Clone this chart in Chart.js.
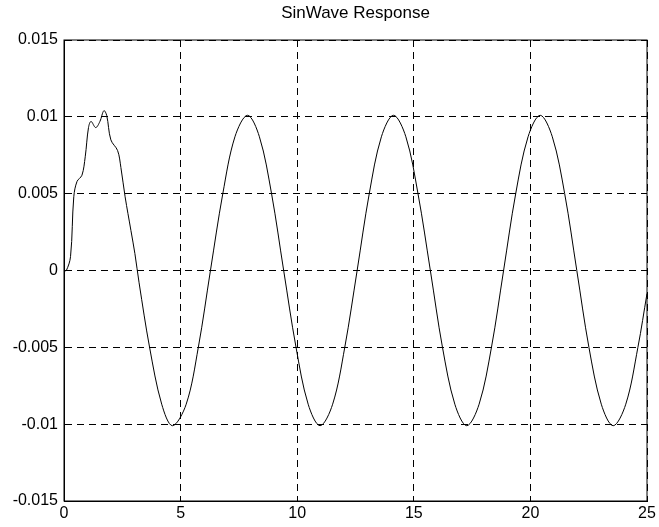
<!DOCTYPE html>
<html>
<head>
<meta charset="utf-8">
<title>SinWave Response</title>
<script src="https://cdn.jsdelivr.net/npm/chart.js@4/dist/chart.umd.min.js"></script>
<style>
    body { margin: 0; background: #fff; }
    #wrap { width: 659px; height: 527px; }
</style>
</head>
<body>
<div id="wrap"><canvas id="sinChart"></canvas></div>
<script>
// time (s) and response
const time = [0, 0.1, 0.28, 0.42, 0.56, 0.77, 0.91, 1.05, 1.16, 1.36, 1.54, 1.71, 1.83, 2.01, 2.3, 2.44, 2.62, 2.87, 3.04,
    3.22, 3.67, 4.19, 4.65, 5.24, 5.76, 6.28, 6.81, 7.33, 7.87, 8.38, 8.9, 9.42, 9.95, 10.47, 10.98, 11.52, 12.04,
    12.57, 13.09, 13.61, 14.13, 14.66, 15.18, 15.71, 16.23, 16.76, 17.27, 17.8, 18.33, 18.85, 19.37, 19.9, 20.42,
    20.94, 21.47, 21.99, 22.51, 23.04, 23.55, 24.09, 24.61, 25];
const response = [0, 0.0000, 0.0009, 0.0048, 0.0058, 0.0062, 0.0074, 0.0093, 0.0097, 0.0093, 0.0097, 0.0104, 0.0101, 0.0085, 0.0078, 0.0067, 0.0048, 0.0026, 0.0011,
    -0.0008, -0.0050, -0.0087, -0.0101, -0.0087, -0.0050, 0.0000, 0.0050, 0.0087, 0.0101, 0.0087, 0.0050, 0.0000, -0.0050, -0.0087, -0.0101, -0.0087, -0.0050,
    0.0000, 0.0050, 0.0087, 0.0101, 0.0087, 0.0050, 0.0000, -0.0050, -0.0087, -0.0101, -0.0087, -0.0050, 0.0000, 0.0050, 0.0087, 0.0101,
    0.0087, 0.0050, 0.0000, -0.0050, -0.0087, -0.0101, -0.0087, -0.0050, -0.0015];

const xTicks = [0, 5, 10, 15, 20, 25];
const yTicks = [-0.015, -0.01, -0.005, 0, 0.005, 0.01, 0.015];

const font = { family: "'Liberation Sans', Arial, sans-serif", size: 16 };

// solid box round the plot area, like the matlab axes
const boxPlugin = {
    id: 'box',
    afterDraw(chart) {
        const { ctx, chartArea: a } = chart;
        ctx.save();
        ctx.strokeStyle = '#000';
        ctx.lineWidth = 1;
        ctx.strokeRect(a.left, a.top, a.right - a.left, a.bottom - a.top);
        ctx.restore();
    }
};

document.addEventListener("DOMContentLoaded", function () {
    const ctx = document.getElementById('sinChart');

    new Chart(ctx, {
        type: 'line',
        data: {
            datasets: [{
                data: time.map((t, i) => ({ x: t, y: response[i] })),
                borderColor: '#000',
                borderWidth: 1,
                pointRadius: 0,
                tension: 0.35,
                fill: false
            }]
        },
        options: {
            responsive: true,
            maintainAspectRatio: false,
            animation: false,
            layout: { padding: { left: 0, right: 12, top: 0, bottom: 0 } },
            plugins: {
                legend: { display: false },
                tooltip: { enabled: false },
                title: {
                    display: true,
                    fullSize: false,
                    text: 'SinWave Response',
                    color: '#000',
                    font: { family: font.family, size: 17, weight: 'normal' },
                    padding: { top: 3.5, bottom: 16.1 }
                }
            },
            scales: {
                x: {
                    type: 'linear',
                    min: 0,
                    max: 25,
                    afterBuildTicks: scale => { scale.ticks = xTicks.map(v => ({ value: v })); },
                    afterFit: scale => { scale.height = 26; },
                    ticks: { color: '#000', font: font, padding: 3, maxRotation: 0 },
                    grid: { color: '#000', lineWidth: 1, drawTicks: false },
                    border: { color: '#000', dash: [7, 5] }
                },
                y: {
                    min: -0.015,
                    max: 0.015,
                    afterBuildTicks: scale => { scale.ticks = yTicks.map(v => ({ value: v })); },
                    afterFit: scale => { scale.width = 64; },
                    ticks: {
                        color: '#000',
                        font: font,
                        padding: 6,
                        callback: v => String(+v.toFixed(3))
                    },
                    grid: { color: '#000', lineWidth: 1, drawTicks: false },
                    border: { color: '#000', dash: [7, 5] }
                }
            }
        },
        plugins: [boxPlugin]
    });
});
</script>
</body>
</html>
